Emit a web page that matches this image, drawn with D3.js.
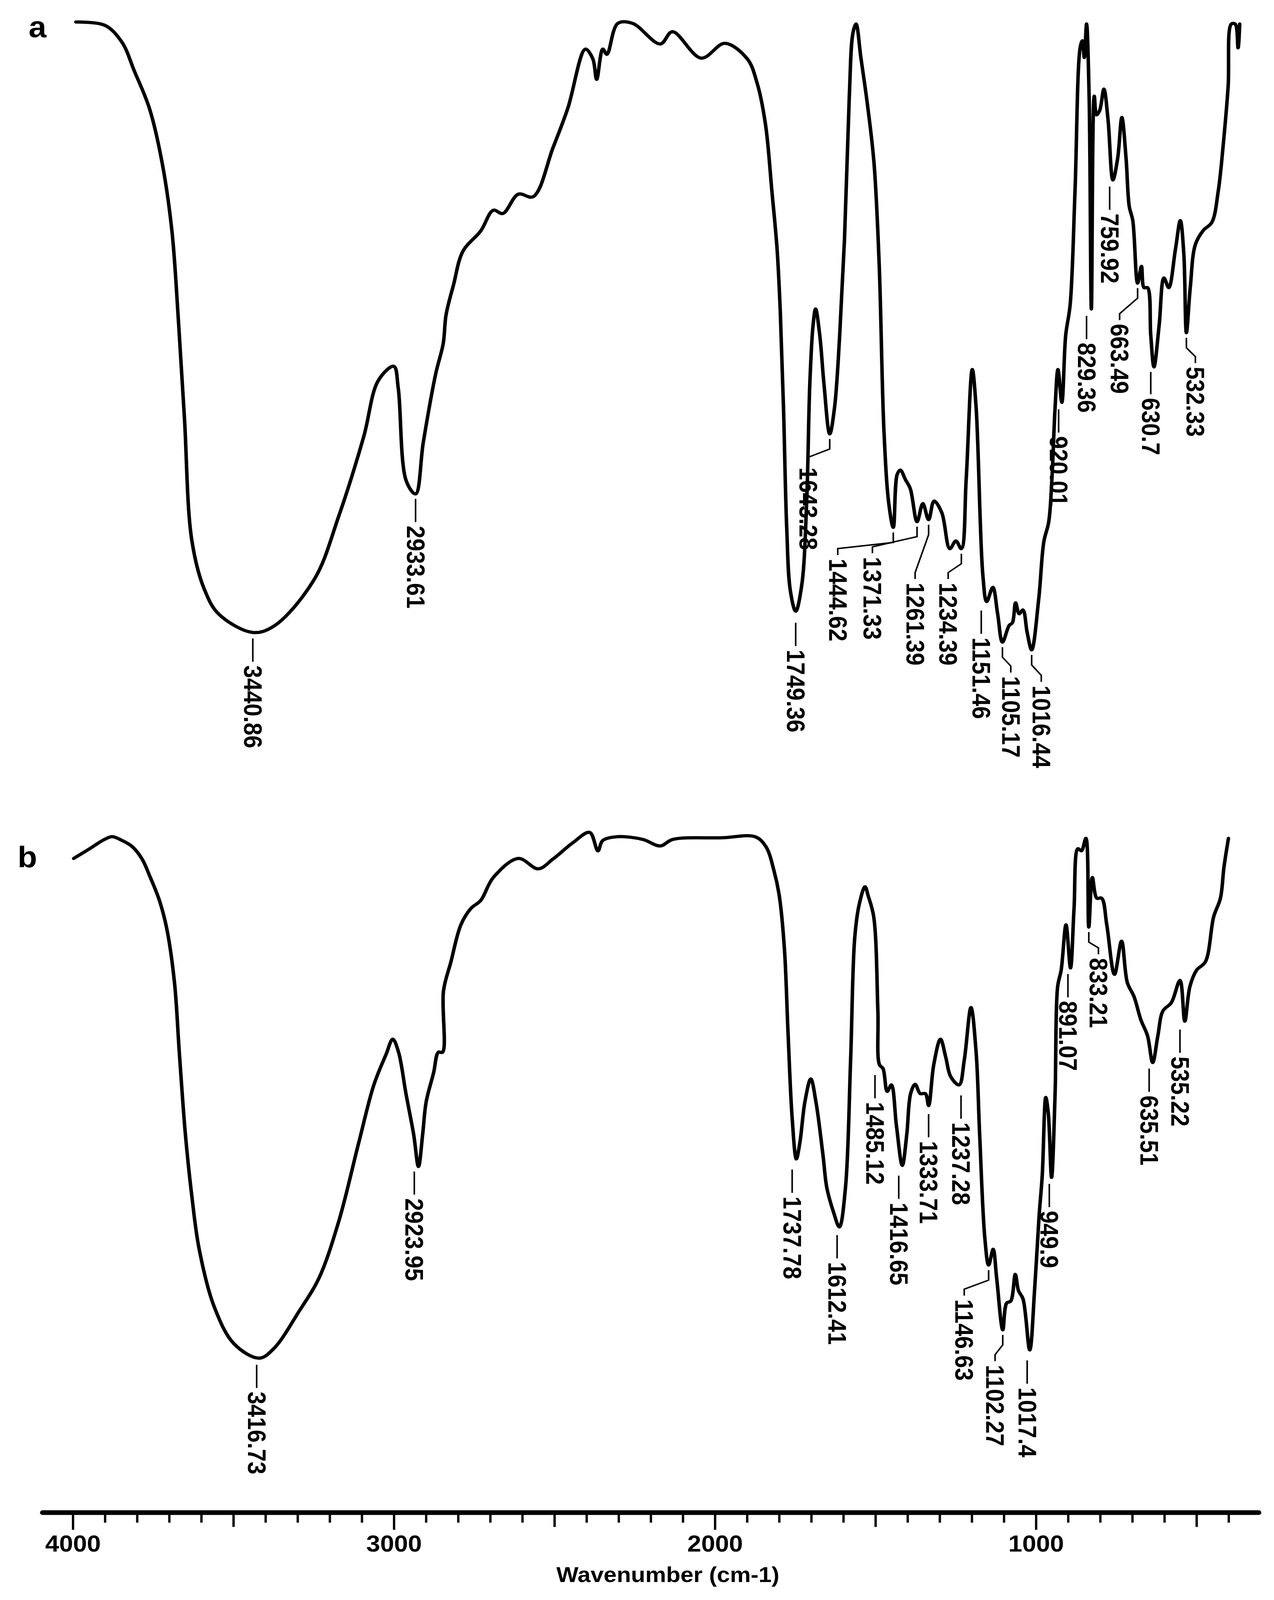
<!DOCTYPE html>
<html><head><meta charset="utf-8">
<script src="https://cdn.jsdelivr.net/npm/d3@7"></script>
<style>html,body{margin:0;padding:0;background:#fff;overflow:hidden;width:100%;height:100%}svg{display:block;width:100vw;height:100vh}</style>
</head><body>
<script>
// Spectrum a: [wavenumber, transmittance %]
const spectrumA = [[3991,98.8],[3901,98.3],[3848,95.7],[3809,91.2],[3762,85.4],[3723,77.1],[3692,66.4],[3672,52.7],[3653,37.4],[3630,18.4],[3591,10.8],[3545,6.9],[3440,4.1],[3374,5.1],[3249,12.3],[3172,22.2],[3095,34.4],[3049,43.2],[3001,45.4],[2987,42.0],[2962,27.6],[2933,25.6],[2909,33.6],[2870,44.3],[2847,48.9],[2838,53.4],[2815,58.0],[2785,63.3],[2730,66.4],[2691,69.6],[2661,69.1],[2613,72.1],[2567,71.7],[2505,79.3],[2459,85.4],[2404,94.6],[2381,93.1],[2369,89.9],[2350,94.6],[2337,93.8],[2303,98.6],[2257,98.6],[2171,95.4],[2133,97.3],[2043,93.2],[1970,95.5],[1900,93.1],[1869,89.3],[1843,82.9],[1823,72.5],[1807,63.6],[1797,53.9],[1787,39.0],[1777,20.4],[1766,10.7],[1749,7.4],[1730,11.5],[1715,24.1],[1705,42.7],[1695,51.7],[1687,54.3],[1674,50.2],[1661,42.7],[1643,34.9],[1628,39.0],[1612,50.2],[1597,65.1],[1582,87.3],[1571,97.0],[1561,98.5],[1546,93.3],[1525,85.8],[1505,76.9],[1489,61.3],[1474,35.3],[1459,24.1],[1445,20.4],[1433,28.6],[1423,29.3],[1407,27.8],[1392,26.4],[1371,21.3],[1353,24.1],[1335,21.6],[1318,24.5],[1294,22.7],[1269,17.1],[1250,18.3],[1233,17.1],[1218,27.8],[1199,44.9],[1187,39.0],[1166,13.0],[1154,8.9],[1135,11.1],[1120,7.0],[1105,2.6],[1084,5.2],[1074,5.6],[1064,8.7],[1053,7.0],[1041,7.6],[1028,4.1],[1014,1.4],[992,9.3],[976,18.2],[961,21.2],[951,27.8],[941,39.0],[932,44.9],[920,39.8],[908,50.2],[894,55.0],[879,72.5],[863,94.8],[856,95.9],[850,93.3],[843,98.5],[835,87.3],[828,54.3],[819,87.3],[812,84.4],[802,85.1],[789,88.4],[776,83.6],[761,74.3],[746,77.7],[733,84.0],[720,77.7],[710,70.2],[699,68.0],[684,58.3],[672,60.9],[664,57.6],[653,57.6],[643,50.2],[633,45.3],[617,51.7],[602,59.1],[587,57.6],[566,63.6],[551,68.0],[540,62.8],[532,50.6],[520,57.6],[504,64.3],[479,66.5],[453,67.7],[433,72.5],[417,79.9],[402,88.8],[392,98.5],[380,98.5],[371,94.8],[366,98.5]];

// Spectrum b
const spectrumB = [[3998,93.6],[3948,95.4],[3902,97.1],[3878,97.6],[3847,96.9],[3816,95.8],[3785,93.5],[3762,90.5],[3731,85.9],[3708,80.7],[3684,70.8],[3669,58.0],[3650,42.9],[3630,31.6],[3607,21.8],[3560,11.2],[3498,4.4],[3420,1.8],[3374,3.6],[3296,10.4],[3234,16.5],[3172,27.0],[3110,41.4],[3063,52.0],[3025,57.6],[3004,60.4],[2986,58.0],[2963,50.4],[2939,42.9],[2924,37.0],[2911,42.9],[2900,48.9],[2877,54.2],[2862,58.0],[2849,58.0],[2846,69.3],[2823,74.6],[2792,81.4],[2761,84.4],[2730,85.9],[2691,90.1],[2613,93.6],[2551,91.7],[2505,93.5],[2443,96.5],[2391,98.4],[2365,95.0],[2350,96.9],[2303,97.6],[2225,97.1],[2171,95.9],[2132,97.1],[1977,97.4],[1876,97.6],[1842,95.8],[1816,91.2],[1800,86.7],[1784,76.9],[1773,61.8],[1760,45.9],[1747,38.4],[1736,41.4],[1720,49.0],[1702,53.1],[1686,48.9],[1664,39.1],[1652,33.1],[1631,28.6],[1613,25.9],[1594,33.1],[1578,56.5],[1565,79.1],[1551,85.2],[1533,88.4],[1523,86.7],[1506,82.9],[1493,65.6],[1488,55.7],[1477,55.0],[1464,50.8],[1451,52.0],[1435,44.4],[1417,37.2],[1403,42.9],[1391,50.4],[1377,52.1],[1361,50.4],[1345,50.4],[1335,48.2],[1319,55.7],[1298,60.4],[1282,57.2],[1266,53.5],[1240,52.0],[1224,56.5],[1203,66.2],[1187,58.0],[1176,42.9],[1160,24.0],[1148,18.9],[1134,21.8],[1123,16.5],[1104,7.0],[1092,11.9],[1079,12.3],[1065,17.2],[1055,14.2],[1041,12.7],[1020,3.3],[1005,14.2],[991,27.8],[981,35.4],[970,49.7],[962,46.7],[952,35.0],[941,50.4],[933,70.1],[922,73.1],[907,81.4],[893,73.5],[882,84.4],[870,95.4],[859,95.0],[845,97.3],[836,81.0],[825,90.1],[811,86.3],[796,86.3],[780,81.4],[756,72.3],[734,78.4],[716,70.8],[695,68.2],[674,64.0],[653,61.0],[637,56.1],[621,61.0],[605,65.6],[579,67.1],[552,71.2],[537,63.7],[521,70.1],[500,73.1],[473,74.6],[447,82.9],[426,86.3],[415,92.0],[401,97.3]];

const xTicksMajor = [4000, 3000, 2000, 1000];
const xLabel = "Wavenumber (cm-1)";
const panelNames = ["a", "b"];

// Peak labels: [text, peak wavenumber, label wavenumber]
const peaksA = [["3440.86",3440,3440],["2933.61",2933,2933],["1749.36",1749,1749],["1643.28",1643,1710],["1444.62",1445,1618],["1371.33",1371,1510],["1261.39",1335,1377],["1234.39",1233,1274],["1151.46",1154,1171],["1105.17",1105,1079],["1016.44",1014,984],["920.01",920,930],["829.36",828,843],["759.92",761,771],["663.49",684,740],["630.7",633,643],["532.33",532,504]];
const peaksB = [["3416.73",3420,3428],["2923.95",2924,2937],["1737.78",1747,1760],["1612.41",1613,1620],["1485.12",1488,1502],["1416.65",1417,1428],["1333.71",1335,1335],["1237.28",1240,1234],["1146.63",1148,1224],["1102.27",1104,1128],["1017.4",1020,1028],["949.9",952,959],["891.07",893,901],["833.21",836,806],["635.51",637,648],["535.22",537,552]];

const W = 3262, H = 4468;
const svg = d3.select("body").append("svg")
  .attr("viewBox", `0 0 ${W} ${H}`).attr("preserveAspectRatio", "none")
  .style("font-family", "'Liberation Sans', Arial, sans-serif");

const x = d3.scaleLinear().domain([4000, 400]).range([187, 187 + 3600 * 0.822]);
const yA = d3.scaleLinear().domain([0, 100]).range([1840, 40]);
const yB = d3.scaleLinear().domain([0, 100]).range([3820, 2300]);

// Label text start y (layout)
const labelYA = [1858,1468,1814,1305,1560,1555,1627,1627,1780,1888,1914,1218,957,596,904,1111,1024];
const labelYB = [3886,3346,3341,3524,3077,3358,3186,3134,3628,3811,3874,3381,2795,2675,3059,2950];

function interp(data, w) {
  for (let i = 0; i < data.length - 1; i++) {
    const a = data[i], b = data[i + 1];
    if ((w <= a[0] && w >= b[0])) {
      const t = (a[0] - w) / (a[0] - b[0]);
      return a[1] + t * (b[1] - a[1]);
    }
  }
  return data[data.length - 1][1];
}

function drawPanel(data, y, peaks, labelY, name, nameY) {
  const line = d3.line().x(d => x(d[0])).y(d => y(d[1])).curve(d3.curveCatmullRom.alpha(0.5));
  svg.append("path").datum(data).attr("d", line)
    .attr("fill", "none").attr("stroke", "#000").attr("stroke-width", 9)
    .attr("stroke-linejoin", "round").attr("stroke-linecap", "round");
  svg.append("text").attr("x", name === "a" ? 96 : 70).attr("y", nameY)
    .attr("text-anchor", "middle").attr("dominant-baseline", "central")
    .attr("font-size", 82).attr("font-weight", "bold").text(name);
  peaks.forEach((p, i) => {
    const px = x(p[1]), py = y(interp(data, p[1])) + 14;
    const tx = x(p[2]), ty = labelY[i];
    let pts;
    if (Math.abs(tx - px) < 14) {
      pts = [[tx, Math.max(py, ty - 75)], [tx, ty - 10]];
    } else {
      pts = [[px, py], [px, py + 28], [tx, Math.max(py + 40, ty - 28)], [tx, ty - 10]];
    }
    svg.append("path").attr("d", d3.line()(pts)).attr("fill", "none")
      .attr("stroke", "#000").attr("stroke-width", 4);
    svg.append("text").attr("transform", `translate(${tx},${ty}) rotate(90)`)
      .attr("text-anchor", "start").attr("dominant-baseline", "central")
      .attr("font-size", 64).attr("font-weight", "bold").text(p[0]);
  });
}

drawPanel(spectrumA, yA, peaksA, labelYA, panelNames[0], 75);
drawPanel(spectrumB, yB, peaksB, labelYB, panelNames[1], 2393);

// X axis
const axisY = 4224;
svg.append("line").attr("x1", 109).attr("x2", 3223).attr("y1", axisY).attr("y2", axisY)
  .attr("stroke", "#000").attr("stroke-width", 13).attr("stroke-linecap", "round");
const ticks = d3.range(4000, 399, -100);
svg.selectAll(".tk").data(ticks).enter().append("line")
  .attr("x1", d => x(d)).attr("x2", d => x(d))
  .attr("y1", axisY).attr("y2", d => axisY + (d % 1000 === 0 ? 48 : d % 500 === 0 ? 40 : 28))
  .attr("stroke", "#000").attr("stroke-width", 6);
svg.selectAll(".tl").data(xTicksMajor).enter().append("text")
  .attr("x", d => x(d)).attr("y", 4333).attr("text-anchor", "middle")
  .attr("font-size", 64).attr("font-weight", "bold").text(d => d);
svg.append("text").attr("x", 1710).attr("y", 4418).attr("text-anchor", "middle")
  .attr("font-size", 60).attr("font-weight", "bold").text(xLabel);
</script>
</body></html>
